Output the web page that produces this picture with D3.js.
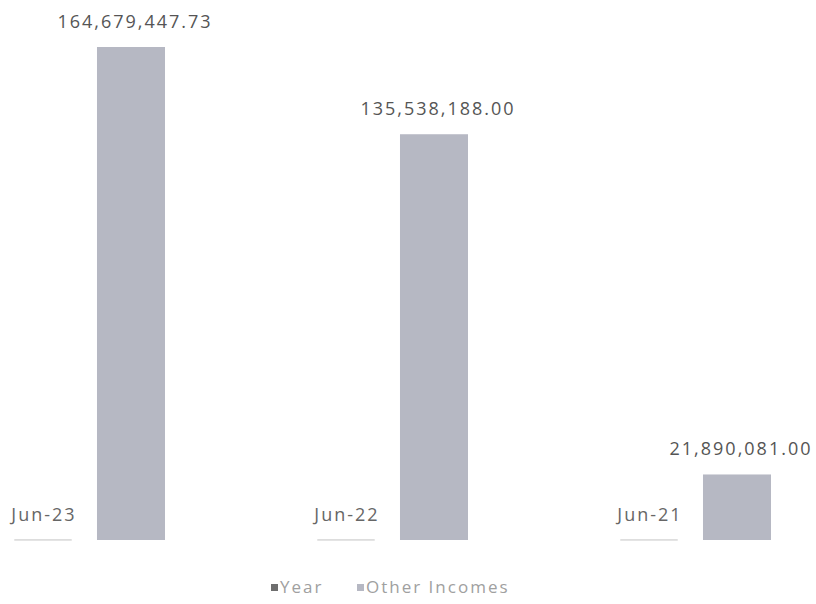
<!DOCTYPE html>
<html>
<head>
<meta charset="utf-8">
<script src="https://cdn.jsdelivr.net/npm/d3@7"></script>
<style>
  body { margin: 0; background: #fff; }
  svg { display: block; }
  text { font-family: "Open Sans", sans-serif; }
</style>
</head>
<body>
<script>
// data uit de grafiek
var categories = ["Jun-23", "Jun-22", "Jun-21"];
var series = ["Year", "Other Incomes"];
var yearValues = [45078, 44713, 44348];  // datum als getal, dus bijna nul
var otherIncomes = [164679447.73, 135538188.00, 21890081.00];
var seriesColors = ["#6e6e6e", "#b6b8c3"];

var width = 816, height = 604;

var svg = d3.select("body").append("svg")
    .attr("width", width)
    .attr("height", height);

var x0 = d3.scalePoint()
    .domain(categories)
    .range([87, 693]);

var x1 = d3.scaleBand()
    .domain(series)
    .range([-78, 78])
    .paddingInner(0.227);

var y = d3.scaleLinear()
    .domain([0, d3.max(otherIncomes)])
    .range([540, 47]);

var rows = categories.map(function(c, i) {
  return {cat: c, values: [
    {key: series[0], value: yearValues[i]},
    {key: series[1], value: otherIncomes[i]}
  ]};
});

var groups = svg.selectAll("g.group")
    .data(rows)
    .enter().append("g")
      .attr("class", "group")
      .attr("transform", function(d) { return "translate(" + x0(d.cat) + ",0)"; });

// de "Year" bars zijn heel dun, een lichte lijn op de basis
groups.append("rect")
    .attr("x", function(d) { return x1(series[0]) + 6; })
    .attr("y", function(d) { return y(d.values[0].value); })
    .attr("width", x1.bandwidth() - 12)
    .attr("height", function(d) { return y(0) - y(d.values[0].value); })
    .attr("fill", seriesColors[0])
    .attr("stroke", "#dcdcdc")
    .attr("stroke-width", 1.5);

groups.append("rect")
    .attr("x", x1(series[1]))
    .attr("y", function(d) { return y(d.values[1].value); })
    .attr("width", x1.bandwidth())
    .attr("height", function(d) { return y(0) - y(d.values[1].value); })
    .attr("fill", seriesColors[1]);

// labels
groups.append("text")
    .attr("x", x1(series[0]) + x1.bandwidth() / 2 + 1)
    .attr("y", y(0) - 19)
    .attr("text-anchor", "middle")
    .attr("font-size", 18)
    .attr("letter-spacing", 2)
    .attr("fill", "#666")
    .text(function(d) { return d.cat; });

var fmt = d3.format(",.2f");
groups.append("text")
    .attr("x", x1(series[1]) + x1.bandwidth() / 2 + 4)
    .attr("y", function(d) { return y(d.values[1].value) - 19; })
    .attr("text-anchor", "middle")
    .attr("font-size", 18)
    .attr("letter-spacing", 2)
    .attr("fill", "#555")
    .text(function(d) { return fmt(d.values[1].value); });

// legenda
var legend = svg.append("g")
    .attr("transform", "translate(271,593)");

var legendX = [0, 86];
var item = legend.selectAll("g")
    .data(series)
    .enter().append("g")
      .attr("transform", function(d, i) { return "translate(" + legendX[i] + ",0)"; });

item.append("rect")
    .attr("x", 0)
    .attr("y", -9)
    .attr("width", 7)
    .attr("height", 7)
    .attr("fill", function(d, i) { return seriesColors[i]; });

item.append("text")
    .attr("x", 9)
    .attr("y", 0)
    .attr("font-size", 17)
    .attr("letter-spacing", 2)
    .attr("fill", "#a0a0a0")
    .text(function(d) { return d; });
</script>
</body>
</html>
